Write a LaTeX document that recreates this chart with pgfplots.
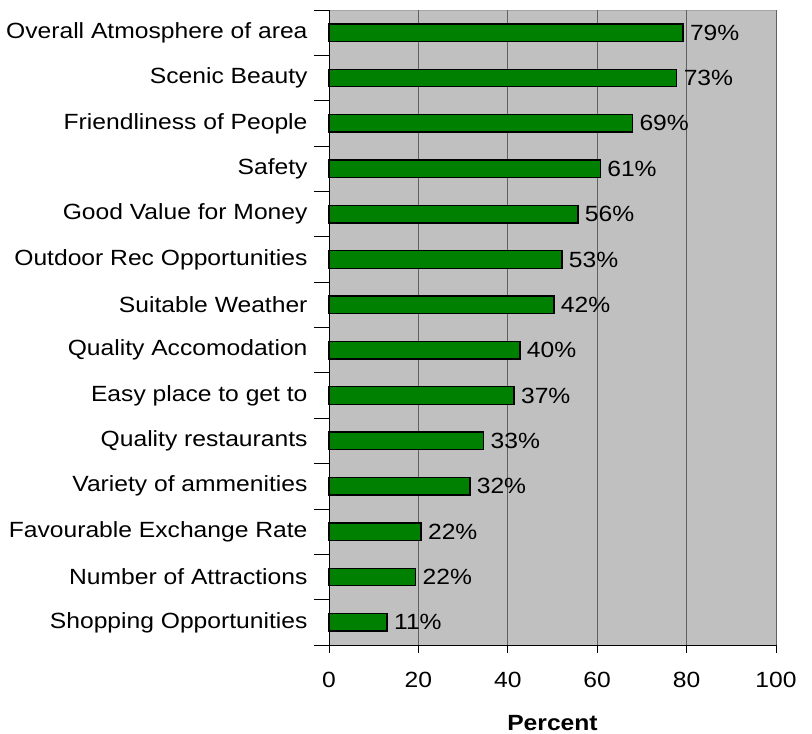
\documentclass[border=0pt]{standalone}
\usepackage{pgfplots}
\usepackage{pgfplotstable}
\pgfplotsset{compat=1.18}
\usepackage{fontspec}
\setmainfont{Liberation Sans}[FakeStretch=1.12]
\definecolor{bargreen}{HTML}{008000}
\definecolor{plotbg}{HTML}{C0C0C0}
\definecolor{gridgray}{HTML}{606060}
\pgfplotstableread[col sep=comma]{
idx,val,lab
0,79.2,79
1,77.8,73
2,67.9,69
3,60.7,61
4,55.7,56
5,52.1,53
6,50.3,42
7,42.7,40
8,41.4,37
9,34.6,33
10,31.5,32
11,20.6,22
12,19.4,22
13,13.0,11
}\data
\begin{document}
\begin{tikzpicture}
\begin{axis}[
  scale only axis, width=447bp, height=635bp,
  xbar, bar width=17.5bp,
  xmin=0, xmax=100, ymin=-0.5, ymax=13.5, y dir=reverse,
  axis background/.style={fill=plotbg, draw=gray!70},
  axis lines=left, axis line style={-, black, line width=0.9bp},
  tick align=outside,
  xtick={0,20,40,60,80,100},
  major tick length=8bp, minor tick length=15bp,
  every tick/.style={black, line width=0.8bp},
  xmajorgrids, major x grid style={gridgray, line width=0.9bp},
  ytick={0,...,13},
  major y tick style={draw=none},
  minor ytick={-0.5,0.5,...,13.5},
  minor y tick style={black, line width=0.8bp},
  yticklabels={Overall Atmosphere of area, Scenic Beauty, Friendliness of People, Safety, Good Value for Money, Outdoor Rec Opportunities, Suitable Weather, Quality Accomodation, Easy place to get to, Quality restaurants, Variety of ammenities, Favourable Exchange Rate, Number of Attractions, Shopping Opportunities},
  yticklabel style={font=\fontsize{22bp}{26bp}\selectfont, xshift=-10bp},
  xticklabel style={font=\fontsize{22bp}{26bp}\selectfont, yshift=-16bp},
  /pgf/number format/assume math mode=true,
  xlabel={\textbf{Percent}},
  xlabel style={font=\fontsize{22bp}{26bp}\selectfont, yshift=-20bp},
  point meta=explicit symbolic,
  nodes near coords={\pgfplotspointmeta\%},
  nodes near coords align={horizontal},
  nodes near coords style={font=\fontsize{22bp}{26bp}\selectfont, black, anchor=west, xshift=3bp},
  clip=false,
]
\addplot[fill=bargreen, draw=black, line width=1.4bp] table[x=val, y=idx, meta=lab] {\data};
\end{axis}
\path (current axis.south west) +(-329bp,645bp) coordinate (tl) +(483bp,-89bp) coordinate (br);
\pgfresetboundingbox
\path[use as bounding box] (tl) rectangle (br);
\end{tikzpicture}
\end{document}
